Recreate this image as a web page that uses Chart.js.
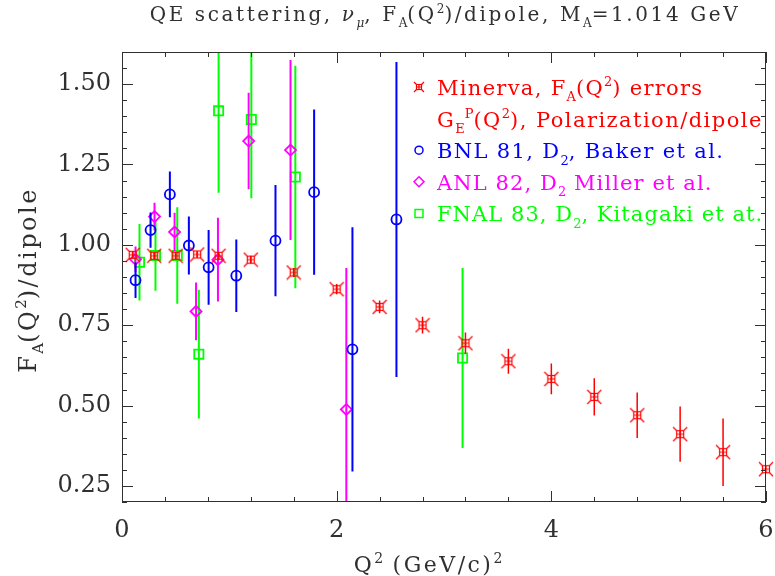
<!DOCTYPE html>
<html>
<head>
<meta charset="utf-8">
<script src="https://cdn.jsdelivr.net/npm/chart.js@4.4.0/dist/chart.umd.min.js"></script>
<style>
  html, body { margin: 0; padding: 0; background: #fff; }
  #wrap { width: 775px; height: 576px; }
</style>
</head>
<body>
<div id="wrap"><canvas id="mainChart" width="775" height="576"></canvas></div>
<script>
// Minerva F_A(Q^2) errors (G_E^p polarization / dipole)
const minervaQ2 = [0.1, 0.3, 0.5, 0.7, 0.9, 1.2, 1.6, 2.0, 2.4, 2.8, 3.2, 3.6, 4.0, 4.4, 4.8, 5.2, 5.6, 6.0];
const minervaFA = [0.969, 0.966, 0.966, 0.970, 0.966, 0.954, 0.914, 0.862, 0.807, 0.750, 0.694, 0.638, 0.583, 0.527, 0.470, 0.411, 0.355, 0.302];
const minervaErr = [0.010, 0.010, 0.010, 0.010, 0.012, 0.012, 0.014, 0.016, 0.020, 0.026, 0.033, 0.039, 0.048, 0.058, 0.071, 0.086, 0.105, 0.126];

// BNL 81, D2, Baker et al.
const bnlQ2 = [0.126, 0.266, 0.446, 0.623, 0.807, 1.065, 1.43, 1.79, 2.147, 2.557];
const bnlFA = [0.890, 1.046, 1.157, 0.998, 0.930, 0.904, 1.013, 1.164, 0.675, 1.079];
const bnlErr = [0.055, 0.055, 0.071, 0.090, 0.116, 0.113, 0.173, 0.257, 0.380, 0.490];

// ANL 82, D2, Miller et al.
const anlQ2 = [0.126, 0.303, 0.490, 0.690, 0.894, 1.180, 1.570, 2.090];
const anlFA = [0.955, 1.088, 1.040, 0.793, 0.954, 1.323, 1.295, 0.488];
const anlErr = [0.040, 0.043, 0.060, 0.090, 0.130, 0.150, 0.280, 0.440];

// FNAL 83, D2, Kitagaki et al.
const fnalQ2 = [0.163, 0.312, 0.515, 0.716, 0.900, 1.205, 1.615, 3.173];
const fnalFA = [0.946, 0.967, 0.967, 0.660, 1.417, 1.390, 1.211, 0.648];
const fnalErr = [0.119, 0.110, 0.150, 0.200, 0.255, 0.245, 0.346, 0.280];

// axis ticks
const xTickStep = 2;
const xMinorStep = 0.4;
const yTickStep = 0.25;
const yMinorStep = 0.05;

// texts: [text, 'sub'|'sup'|'', italic]
const titleText = [['QE scattering, '], ['\u03bd', '', true], ['\u03bc', 'sub', true], [', F'], ['A', 'sub'], ['(Q'], ['2', 'sup'], [')/dipole, M'], ['A', 'sub'], ['=1.014 GeV']];
const xTitleText = [['Q'], ['2', 'sup'], [' (GeV/c)'], ['2', 'sup']];
const yTitleText = [['F'], ['A', 'sub'], ['(Q'], ['2', 'sup'], [')/dipole']];
const legendRows = [
    { sym: 'minerva', color: '#ff0000', spacing: 1.3, parts: [['Minerva, F'], ['A', 'sub'], ['(Q'], ['2', 'sup'], [') errors']] },
    { sym: null, color: '#ff0000', spacing: 1.45, parts: [['G'], ['E', 'sub'], ['P', 'sup'], ['(Q'], ['2', 'sup'], ['), Polarization/dipole']] },
    { sym: 'circle', color: '#0000ff', spacing: 1.35, parts: [['BNL 81, D'], ['2', 'sub'], [', Baker et al.']] },
    { sym: 'diamond', color: '#ff00ff', spacing: 1.1, parts: [['ANL 82, D'], ['2', 'sub'], [' Miller et al.']] },
    { sym: 'square', color: '#00ff00', spacing: 1.05, parts: [['FNAL 83, D'], ['2', 'sub'], [', Kitagaki et at.']] }
];

const FONT = '"DejaVu Serif", serif';
const INK = '#303030';

function toPoints(xs, ys) {
    return xs.map((x, i) => ({ x: x, y: ys[i] }));
}

// simbolo de Minerva: cuadro con esquinas en aspa
function minervaMarker(half, color) {
    const c = document.createElement('canvas');
    c.width = c.height = half * 2 + 2;
    const g = c.getContext('2d');
    const m = half + 1;
    const s = half * 0.5;
    g.strokeStyle = color;
    g.lineWidth = 1.2;
    g.strokeRect(m - s, m - s, 2 * s, 2 * s);
    g.beginPath();
    g.moveTo(m - s, m); g.lineTo(m + s, m);
    g.moveTo(m, m - s); g.lineTo(m, m + s);
    [[-1, -1], [1, -1], [1, 1], [-1, 1]].forEach(([dx, dy]) => {
        g.moveTo(m + dx * s, m + dy * s);
        g.lineTo(m + dx * half, m + dy * half);
    });
    g.stroke();
    return c;
}

function fontFor(p, size) {
    const s = p[1] ? Math.round(size * 0.62) : size;
    return (p[2] ? 'italic ' : '') + s + 'px ' + FONT;
}

function richWidth(ctx, parts, size, spacing) {
    let w = 0;
    parts.forEach(p => {
        ctx.font = fontFor(p, size);
        ctx.letterSpacing = (p[1] ? 0 : spacing) + 'px';
        w += ctx.measureText(p[0]).width;
    });
    return w;
}

function drawRich(ctx, parts, x, y, size, color, align, spacing) {
    spacing = spacing || 0;
    let cx = align === 'center' ? x - richWidth(ctx, parts, size, spacing) / 2 : x;
    ctx.fillStyle = color;
    ctx.textAlign = 'left';
    ctx.textBaseline = 'alphabetic';
    parts.forEach(p => {
        ctx.font = fontFor(p, size);
        ctx.letterSpacing = (p[1] ? 0 : spacing) + 'px';
        const dy = p[1] === 'sub' ? size * 0.3 : (p[1] === 'sup' ? -size * 0.42 : 0);
        ctx.fillText(p[0], cx, y + dy);
        cx += ctx.measureText(p[0]).width;
    });
    ctx.letterSpacing = '0px';
}

// barras de error verticales con las escalas del grafico
const errorBarsPlugin = {
    id: 'errorBars',
    beforeDatasetDraw(chart, args) {
        const ds = chart.data.datasets[args.index];
        if (!ds.errors) return;
        const { ctx, chartArea } = chart;
        const xs = chart.scales.x, ys = chart.scales.y;
        ctx.save();
        ctx.beginPath();
        ctx.rect(chartArea.left, chartArea.top, chartArea.right - chartArea.left, chartArea.bottom - chartArea.top);
        ctx.clip();
        ctx.strokeStyle = ds.borderColor;
        ctx.lineWidth = ds.errorWidth || 2;
        ctx.beginPath();
        ds.data.forEach((pt, i) => {
            const px = xs.getPixelForValue(pt.x);
            ctx.moveTo(px, ys.getPixelForValue(pt.y - ds.errors[i]));
            ctx.lineTo(px, ys.getPixelForValue(pt.y + ds.errors[i]));
        });
        ctx.stroke();
        ctx.restore();
    }
};

// marco, marcas hacia dentro, titulos y leyenda
const framePlugin = {
    id: 'frame',
    afterDraw(chart) {
        const { ctx, chartArea: a } = chart;
        const xs = chart.scales.x, ys = chart.scales.y;
        ctx.save();
        ctx.strokeStyle = INK;
        ctx.lineWidth = 1;
        ctx.strokeRect(a.left + 0.5, a.top + 0.5, a.right - a.left - 1, a.bottom - a.top - 1);
        ctx.beginPath();
        for (let v = xs.min; v <= xs.max + 1e-9; v += xMinorStep) {
            const major = Math.abs(v / xTickStep - Math.round(v / xTickStep)) < 1e-6;
            const len = major ? 11 : 5;
            const px = Math.round(xs.getPixelForValue(v)) + 0.5;
            ctx.moveTo(px, a.bottom); ctx.lineTo(px, a.bottom - len);
            ctx.moveTo(px, a.top); ctx.lineTo(px, a.top + len);
        }
        for (let v = Math.ceil(ys.min / yMinorStep) * yMinorStep; v <= ys.max + 1e-9; v += yMinorStep) {
            const major = Math.abs(v / yTickStep - Math.round(v / yTickStep)) < 1e-6;
            const len = major ? 11 : 5;
            const py = Math.round(ys.getPixelForValue(v)) + 0.5;
            ctx.moveTo(a.left, py); ctx.lineTo(a.left + len, py);
            ctx.moveTo(a.right, py); ctx.lineTo(a.right - len, py);
        }
        ctx.stroke();

        drawRich(ctx, titleText, 445, 21, 20, INK, 'center', 2.6);
        drawRich(ctx, xTitleText, 428, 572, 22, INK, 'center', 2.5);
        ctx.save();
        ctx.translate(36, 280);
        ctx.rotate(-Math.PI / 2);
        drawRich(ctx, yTitleText, 0, 0, 24, INK, 'center', 2.5);
        ctx.restore();

        legendRows.forEach((row, i) => {
            const cy = 87 + i * 31.6;
            drawRich(ctx, row.parts, 437, cy + 8, 21, row.color, 'left', row.spacing);
            if (!row.sym) return;
            const sx = 419;
            ctx.strokeStyle = row.color;
            ctx.lineWidth = 1.5;
            ctx.beginPath();
            if (row.sym === 'circle') {
                ctx.arc(sx, cy, 4, 0, Math.PI * 2);
            } else if (row.sym === 'diamond') {
                ctx.moveTo(sx, cy - 5); ctx.lineTo(sx + 5, cy); ctx.lineTo(sx, cy + 5); ctx.lineTo(sx - 5, cy); ctx.closePath();
            } else if (row.sym === 'square') {
                ctx.rect(sx - 4, cy - 4, 8, 8);
            } else {
                ctx.drawImage(minervaMarker(5, row.color), sx - 6, cy - 6);
            }
            ctx.stroke();
        });
        ctx.restore();
    }
};

const ctx = document.getElementById('mainChart').getContext('2d');
new Chart(ctx, {
    type: 'scatter',
    data: {
        datasets: [
            {
                label: 'Minerva',
                data: toPoints(minervaQ2, minervaFA),
                errors: minervaErr,
                errorWidth: 1.5,
                borderColor: '#ff0000',
                pointStyle: minervaMarker(7, '#ff0000')
            },
            {
                label: 'BNL 81',
                data: toPoints(bnlQ2, bnlFA),
                errors: bnlErr,
                borderColor: '#0000ff',
                backgroundColor: 'rgba(0,0,0,0)',
                pointStyle: 'circle',
                pointRadius: 5,
                borderWidth: 1.8
            },
            {
                label: 'ANL 82',
                data: toPoints(anlQ2, anlFA),
                errors: anlErr,
                borderColor: '#ff00ff',
                backgroundColor: 'rgba(0,0,0,0)',
                pointStyle: 'rectRot',
                pointRadius: 5.5,
                borderWidth: 1.8
            },
            {
                label: 'FNAL 83',
                data: toPoints(fnalQ2, fnalFA),
                errors: fnalErr,
                borderColor: '#00ff00',
                backgroundColor: 'rgba(0,0,0,0)',
                pointStyle: 'rect',
                pointRadius: 6.5,
                borderWidth: 1.8
            }
        ]
    },
    options: {
        responsive: false,
        animation: false,
        devicePixelRatio: 1,
        clip: false,
        layout: { padding: { top: 52, right: 9, left: 0, bottom: 0 } },
        plugins: {
            legend: { display: false },
            tooltip: { enabled: false },
            title: { display: false }
        },
        scales: {
            x: {
                type: 'linear',
                min: 0,
                max: 6,
                grid: { display: false, drawTicks: false },
                border: { display: false },
                ticks: {
                    stepSize: xTickStep,
                    padding: 14,
                    maxRotation: 0,
                    autoSkip: false,
                    color: INK,
                    font: { family: FONT, size: 24 }
                },
                afterFit(scale) {
                    scale.height = 74;
                    scale.paddingLeft = 0;
                    scale.paddingRight = 0;
                }
            },
            y: {
                type: 'linear',
                min: 0.2,
                max: 1.6,
                grid: { display: false, drawTicks: false },
                border: { display: false },
                ticks: {
                    stepSize: yTickStep,
                    includeBounds: false,
                    padding: 11,
                    autoSkip: false,
                    color: INK,
                    font: { family: FONT, size: 24 },
                    callback: v => v.toFixed(2)
                },
                afterFit(scale) {
                    scale.width = 122;
                    scale.paddingTop = 0;
                    scale.paddingBottom = 0;
                }
            }
        }
    },
    plugins: [errorBarsPlugin, framePlugin]
});
</script>
</body>
</html>
